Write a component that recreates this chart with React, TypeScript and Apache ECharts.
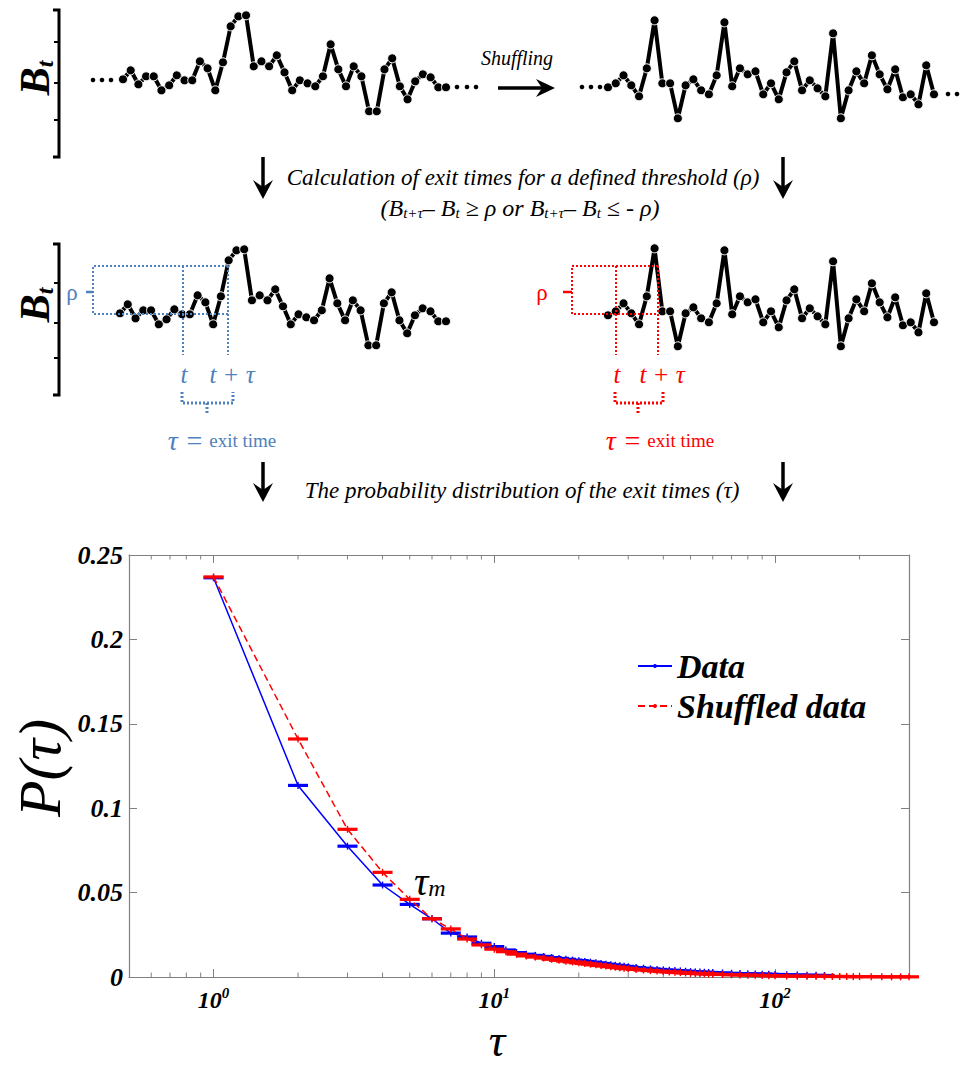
import React, { useEffect, useRef } from "react";
import * as echarts from "echarts";

// ---- Schematic time series (B_t) ----
const originalSeries = [34, 43, 29, 37, 37, 23, 28, 38, 33, 33, 52, 45, 23, 51, 87, 97, 98, 47, 52, 47, 58, 41, 23, 33, 30, 27, 37, 69, 44, 27, 47, 37, 2, 2, 44, 55, 27, 14, 32, 39, 36, 26, 26];
const shuffledSeries = [26, 30, 38, 28, 17, 45, 93, 30, 30, -5, 28, 34, 23, 19, 38, 91, 27, 45, 39, 42, 19, 30, 14, 41, 52, 23, 33, 25, 17, 80, -5, 23, 42, 30, 58, 39, 24, 44, 16, 19, 9, 48, 19];

// ---- Exit time distribution ----
const tauValues = [1, 2, 3, 4, 5, 6, 7, 8, 9, 10, 11, 12, 13, 14, 15, 16, 17, 18, 19, 20, 21, 22, 23, 24, 25, 26, 27, 28, 29, 30,
  32, 34, 36, 38, 40, 42, 44, 46, 48, 50, 52, 54, 56, 58, 60,
  65, 70, 75, 80, 85, 90, 95, 100,
  110, 120, 130, 140, 150,
  160, 170, 180, 190, 200,
  220, 240, 260, 280, 300];
const pData = [0.2365, 0.1135, 0.0775, 0.0545, 0.0430, 0.0345, 0.0260, 0.0237, 0.0200, 0.0180, 0.0160, 0.0145, 0.0135, 0.0128, 0.0122, 0.0115, 0.0110, 0.0105, 0.0100, 0.0097, 0.0092, 0.0088, 0.0084, 0.0080, 0.0076, 0.0072, 0.0069, 0.0066, 0.0063, 0.0060,
  0.0056, 0.0052, 0.0048, 0.0045, 0.0042, 0.0040, 0.0038, 0.0036, 0.0034, 0.0032, 0.0030, 0.0029, 0.0028, 0.0027, 0.0026,
  0.0024, 0.0022, 0.0020, 0.0019, 0.0018, 0.0017, 0.0016, 0.0015,
  0.0013, 0.0012, 0.0011, 0.0010, 0.0009,
  null, null, null, null, null,
  null, null, null, null, null];
const pShuffled = [0.2370, 0.1410, 0.0875, 0.0620, 0.0460, 0.0345, 0.0285, 0.0225, 0.0190, 0.0165, 0.0150, 0.0135, 0.0125, 0.0118, 0.0112, 0.0105, 0.0099, 0.0094, 0.0089, 0.0084, 0.0080, 0.0076, 0.0072, 0.0068, 0.0065, 0.0061, 0.0058, 0.0055, 0.0052, 0.0049,
  0.0045, 0.0041, 0.0038, 0.0035, 0.0032, 0.0030, 0.0028, 0.0026, 0.0024, 0.0022, 0.0021, 0.0020, 0.0019, 0.0018, 0.0017,
  0.0015, 0.0013, 0.0012, 0.0011, 0.0010, 0.0009, 0.0008, 0.0007,
  0.0006, 0.0005, 0.0005, 0.0004, 0.0004,
  0.0003, 0.0003, 0.0003, 0.0002, 0.0002,
  0.0002, 0.0001, 0.0001, 0.0001, 0.0001];
const minorTicks = [0.6, 0.7, 0.8, 0.9, 2, 3, 4, 5, 6, 7, 8, 9, 20, 30, 40, 50, 60, 70, 80, 90, 200];

const SERIF = "'Liberation Serif', 'Times New Roman', serif";
const BLUE_ANN = "#4f81bd";
const RED = "#ff0000";
const BLUE = "#0000ff";
const AXIS_GRAY = "#808080";

function text(x: number, y: number, t: string, o: any = {}) {
  return {
    type: "text", x, y, z: 20,
    rotation: o.rotation || 0,
    style: {
      text: t,
      fontFamily: SERIF,
      fontSize: o.fontSize || 22,
      fontStyle: o.fontStyle || "italic",
      fontWeight: o.fontWeight || "normal",
      fill: o.fill || "#000",
      align: o.align || "center",
      textAlign: o.align || "center",
      verticalAlign: "middle",
      textVerticalAlign: "middle",
      rich: o.rich,
    },
  };
}
function line(x1: number, y1: number, x2: number, y2: number, stroke: string, w: number, dash?: number[]) {
  return { type: "line", z: 15, shape: { x1, y1, x2, y2 }, style: { stroke, lineWidth: w, lineDash: dash } };
}
function poly(points: number[][], stroke: string, w: number, dash?: number[]) {
  return { type: "polyline", z: 15, shape: { points }, style: { stroke, lineWidth: w, lineDash: dash, fill: null } };
}
function downArrow(x: number, y1: number, y2: number) {
  return [
    line(x, y1, x, y2 - 10, "#000", 3.5),
    { type: "polygon", z: 15, shape: { points: [[x - 10, y2 - 19], [x, y2], [x + 10, y2 - 19], [x, y2 - 12]] }, style: { fill: "#000" } },
  ];
}
function dot(x: number, y: number) {
  return { type: "circle", shape: { cx: x, cy: y, r: 2.3 }, style: { fill: "#000" } };
}
function bAxis(top: number, bottom: number, ticks: number[]) {
  return [
    poly([[53, top], [59, top], [59, bottom], [53, bottom]], "#000", 3),
    ...ticks.map((t) => line(54, t, 59, t, "#000", 2)),
  ];
}
function bLabel(x: number, y: number) {
  return text(x, y, "{b|B}{s|t}", {
    rotation: Math.PI / 2,
    rich: {
      b: { fontFamily: SERIF, fontSize: 42, fontWeight: "bold", fontStyle: "italic", lineHeight: 44 },
      s: { fontFamily: SERIF, fontSize: 24, fontWeight: "bold", fontStyle: "italic", lineHeight: 22, verticalAlign: "bottom" },
    },
  });
}
function annotation(color: string, c: any) {
  const dash = [2, 2];
  return [
    text(c.rhoX, 292, "ρ", { fontStyle: "normal", fontSize: 23, fill: color }),
    line(c.dashX1, 292, c.left, 292, color, 2.5),
    poly([[c.x2, 266], [c.left, 266], [c.left, 314], [c.x2, 314]], color, 2, dash),
    line(c.x1, 266, c.x1, 355, color, 2, dash),
    line(c.x2, 266, c.x2, 355, color, 2, dash),
    text(c.x1 + 1, 374, "t", { fontSize: 25, fill: color }),
    text(c.x2 + 4, 374, "t + τ", { fontSize: 25, fill: color }),
    poly([[c.x1 - 1, 392], [c.x1 - 1, 403], [c.x2 + 5, 403], [c.x2 + 5, 392]], color, 3, dash),
    line(c.mid, 403, c.mid, 414, color, 3, dash),
    text(c.labelX, 440, "{a|τ =} {b|exit time}", {
      fill: color,
      rich: {
        a: { fontFamily: SERIF, fontSize: 28, fontStyle: "italic", fill: color, color },
        b: { fontFamily: SERIF, fontSize: 19, fontStyle: "normal", fill: color, color },
      },
    }),
  ];
}

export default function App() {
  const ref = useRef<HTMLDivElement>(null);
  useEffect(() => {
    document.body.style.margin = "0";
    if (!ref.current) return;
    const chart = echarts.init(ref.current, undefined, { renderer: "svg" });

    const tsGrids = [
      { left: 123, top: 3.33, width: 323, height: 120 },
      { left: 608, top: 3.33, width: 326, height: 120 },
      { left: 120, top: 237.33, width: 326, height: 120 },
      { left: 608, top: 231.33, width: 326, height: 120 },
    ];
    const tsData = [originalSeries, shuffledSeries, originalSeries, shuffledSeries];

    const labelFont = { fontFamily: SERIF, fontWeight: "bold", fontStyle: "italic", color: "#000" };
    const errorBars = (color: string, vals: (number | null)[]) => ({
      type: "custom",
      name: color === BLUE ? "Data error" : "Shuffled error",
      xAxisIndex: 4,
      yAxisIndex: 4,
      silent: true,
      z: color === BLUE ? 3 : 5,
      encode: { x: 0, y: 1 },
      data: tauValues.map((t, i) => [t, vals[i]]).filter((d) => d[1] != null),
      renderItem: (params: any, api: any) => {
        const c = api.coord([api.value(0), api.value(1)]);
        return {
          type: "group",
          children: [
            { type: "rect", shape: { x: c[0] - 10, y: c[1] - 1.6, width: 20, height: 3.2 }, style: { fill: color } },
            { type: "rect", shape: { x: c[0] - 0.7, y: c[1] - 3.5, width: 1.4, height: 7 }, style: { fill: color } },
          ],
        };
      },
    });

    const option: any = {
      animation: false,
      backgroundColor: "#fff",
      grid: [
        ...tsGrids,
        { left: 129, top: 555, width: 780, height: 422 },
      ],
      xAxis: [
        ...tsGrids.map((_, i) => ({ type: "value", gridIndex: i, min: 0, max: 42, show: false })),
        {
          type: "log", logBase: 10, gridIndex: 4, min: 0.5, max: 300, position: "bottom",
          axisLine: { show: true, onZero: false, lineStyle: { color: AXIS_GRAY, width: 1.2 } },
          axisTick: { show: true, inside: true, length: 8, lineStyle: { color: AXIS_GRAY } },
          splitLine: { show: false },
          axisLabel: {
            margin: 8,
            formatter: (v: number) => {
              const l = Math.log10(v);
              const r = Math.round(l);
              if (Math.abs(l - r) > 1e-6) return "";
              return `{b|10}{s|${r}}`;
            },
            rich: {
              b: { ...labelFont, fontSize: 24, lineHeight: 30 },
              s: { ...labelFont, fontSize: 15, lineHeight: 15, padding: [0, 0, 14, 0] },
            },
          },
        },
        {
          type: "log", logBase: 10, gridIndex: 4, min: 0.5, max: 300, position: "top",
          axisLine: { show: true, onZero: false, lineStyle: { color: AXIS_GRAY, width: 1.2 } },
          axisTick: { show: true, inside: true, length: 8, lineStyle: { color: AXIS_GRAY } },
          axisLabel: { show: false },
          splitLine: { show: false },
        },
      ],
      yAxis: [
        ...tsGrids.map((_, i) => ({ type: "value", gridIndex: i, min: -10, max: 110, show: false })),
        {
          type: "value", gridIndex: 4, min: 0, max: 0.25, interval: 0.05, position: "left",
          axisLine: { show: true, onZero: false, lineStyle: { color: AXIS_GRAY, width: 1.2 } },
          axisTick: { show: true, inside: true, length: 8, lineStyle: { color: AXIS_GRAY } },
          splitLine: { show: false },
          axisLabel: { ...labelFont, fontSize: 26, margin: 6 },
        },
        {
          type: "value", gridIndex: 4, min: 0, max: 0.25, interval: 0.05, position: "right",
          axisLine: { show: true, onZero: false, lineStyle: { color: AXIS_GRAY, width: 1.2 } },
          axisTick: { show: true, inside: true, length: 8, lineStyle: { color: AXIS_GRAY } },
          splitLine: { show: false },
          axisLabel: { show: false },
        },
      ],
      legend: {
        orient: "vertical",
        left: 632,
        top: 643,
        itemWidth: 34,
        itemHeight: 5,
        itemGap: 4,
        data: ["Data", "Shuffled data"],
        textStyle: { ...labelFont, fontSize: 34, lineHeight: 36 },
      },
      series: [
        ...tsData.map((vals, i) => ({
          type: "line",
          name: `ts${i}`,
          xAxisIndex: i,
          yAxisIndex: i,
          silent: true,
          data: vals.map((v, k) => [k, v]),
          symbol: "circle",
          symbolSize: 9,
          showSymbol: true,
          lineStyle: { color: "#000", width: 4 },
          itemStyle: { color: "#000", borderColor: "#fff", borderWidth: 1 },
          z: 3,
        })),
        {
          type: "custom",
          name: "minor ticks",
          xAxisIndex: 4,
          yAxisIndex: 4,
          silent: true,
          clip: false,
          encode: { x: 0, y: 1 },
          data: minorTicks.map((v) => [v, 0]),
          renderItem: (params: any, api: any) => {
            const b = api.coord([api.value(0), 0]);
            const t = api.coord([api.value(0), 0.25]);
            return {
              type: "group",
              children: [
                { type: "line", shape: { x1: b[0], y1: b[1], x2: b[0], y2: b[1] - 4.5 }, style: { stroke: AXIS_GRAY, lineWidth: 1 } },
                { type: "line", shape: { x1: t[0], y1: t[1], x2: t[0], y2: t[1] + 4.5 }, style: { stroke: AXIS_GRAY, lineWidth: 1 } },
              ],
            };
          },
        },
        {
          type: "line",
          name: "Data",
          xAxisIndex: 4,
          yAxisIndex: 4,
          data: tauValues.map((t, i) => [t, pData[i]]).filter((d) => d[1] != null),
          symbol: "circle",
          symbolSize: 3,
          lineStyle: { color: BLUE, width: 1.5 },
          itemStyle: { color: BLUE },
          z: 2,
        },
        errorBars(BLUE, pData),
        {
          type: "line",
          name: "Shuffled data",
          xAxisIndex: 4,
          yAxisIndex: 4,
          data: tauValues.map((t, i) => [t, pShuffled[i]]),
          symbol: "circle",
          symbolSize: 3,
          lineStyle: { color: RED, width: 1.5, type: [7, 4] },
          itemStyle: { color: RED },
          z: 4,
        },
        errorBars(RED, pShuffled),
      ],
      graphic: [
        // B_t axes
        ...bAxis(10, 157, [42, 83, 120]),
        ...bAxis(244, 395, [283, 323, 358]),
        bLabel(35, 78),
        bLabel(35, 305),
        // ellipsis dots
        dot(93, 80), dot(102, 80), dot(111, 80),
        dot(457, 87), dot(467, 87), dot(476, 87),
        dot(582, 87), dot(591, 87), dot(600, 87),
        dot(948, 94), dot(957, 94),
        // shuffling arrow
        text(517, 58, "Shuffling", { fontSize: 20 }),
        line(498, 88, 543, 88, "#000", 3.5),
        { type: "polygon", z: 15, shape: { points: [[536, 79], [555, 88], [536, 97], [542, 88]] }, style: { fill: "#000" } },
        // down arrows and captions
        ...downArrow(263, 157, 199),
        ...downArrow(783, 157, 199),
        text(523, 177, "Calculation of exit times for a defined threshold (ρ)", { fontSize: 23 }),
        text(520, 208, "(B{s|t+τ}– B{s|t} ≥ ρ or B{s|t+τ}– B{s|t} ≤ - ρ)", {
          fontSize: 24,
          rich: {
            s: { fontFamily: SERIF, fontSize: 15, fontStyle: "italic", lineHeight: 12, verticalAlign: "bottom" },
          },
        }),
        ...downArrow(263, 462, 502),
        ...downArrow(783, 462, 502),
        text(522, 490, "The probability distribution of the exit times (τ)", { fontSize: 23 }),
        // annotations
        ...annotation(BLUE_ANN, { rhoX: 72, dashX1: 86, left: 93, x1: 183, x2: 228, mid: 207, labelX: 222 }),
        ...annotation(RED, { rhoX: 542, dashX1: 563, left: 572, x1: 616, x2: 658, mid: 638, labelX: 660 }),
        // main plot labels
        text(40, 768, "P(τ)", { fontSize: 60, rotation: Math.PI / 2 }),
        text(497, 1040, "τ", { fontSize: 46 }),
        text(414, 881, "{a|τ}{b|m}", {
          align: "left",
          rich: {
            a: { fontFamily: SERIF, fontSize: 40, fontStyle: "italic", lineHeight: 38 },
            b: { fontFamily: SERIF, fontSize: 24, fontStyle: "italic", lineHeight: 20, verticalAlign: "bottom" },
          },
        }),
      ],
    };
    chart.setOption(option);
    return () => chart.dispose();
  }, []);
  return <div ref={ref} style={{ width: 963, height: 1071 }} />;
}
